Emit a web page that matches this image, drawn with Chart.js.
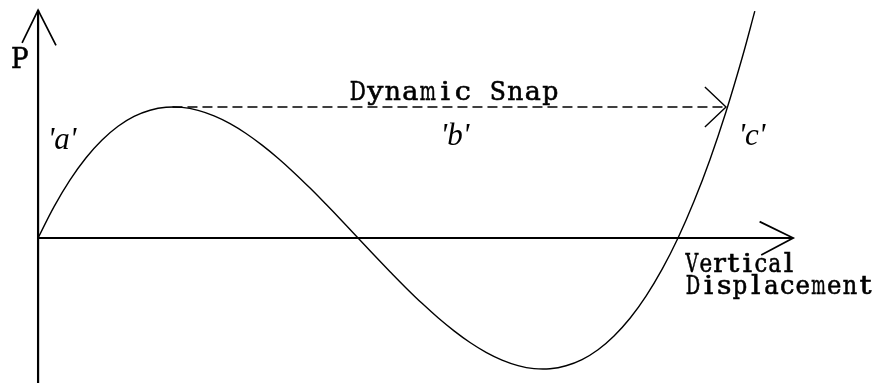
<!DOCTYPE html>
<html>
<head>
<meta charset="utf-8">
<script src="https://cdn.jsdelivr.net/npm/chart.js@4.4.1/dist/chart.umd.min.js"></script>
<style>
  html, body { margin: 0; padding: 0; background: #fff; }
  #wrap { width: 882px; height: 383px; }
</style>
</head>
<body>
<div id="wrap"><canvas id="snapChart" width="882" height="383"></canvas></div>
<script>
// Load-displacement curve (displacement units, load units)
const dispU = [0, 0.05, 0.1, 0.15, 0.2, 0.25, 0.3, 0.35, 0.4, 0.45, 0.5, 0.55, 0.6, 0.65, 0.7, 0.75,
               0.8, 0.85, 0.9, 0.95, 1.0, 1.05, 1.1, 1.15, 1.2, 1.25, 1.3, 1.35, 1.4, 1.45, 1.5,
               1.55, 1.6, 1.65, 1.7, 1.75, 1.8, 1.85, 1.9, 1.95, 2.0, 2.05, 2.1, 2.15, 2.2, 2.24];
const loadP = [0, 0.24, 0.444, 0.613, 0.748, 0.853, 0.928, 0.975, 0.998, 0.997, 0.974, 0.932, 0.873, 0.798, 0.709, 0.609,
               0.499, 0.381, 0.257, 0.13, 0, -0.13, -0.257, -0.381, -0.499, -0.609, -0.709, -0.798, -0.873, -0.932, -0.974,
               -0.997, -0.998, -0.975, -0.928, -0.853, -0.748, -0.613, -0.444, -0.24, 0, 0.28, 0.6, 0.964, 1.372, 1.732];

// Axes and arrows
const yAxisU = [0, 0];               const yAxisP = [1.74, -1.11];
const yArrowU = [-0.05, 0, 0.056];   const yArrowP = [1.49, 1.74, 1.47];
const xAxisU = [0, 2.36];            const xAxisP = [0, 0];
const xArrowU = [2.255, 2.36, 2.26]; const xArrowP = [0.125, 0, -0.13];

// Dynamic snap jump from the limit point to branch 'c'
const snapU = [0.42, 2.15];          const snapP = [1.0, 1.0];
const snapHeadU = [2.084, 2.15, 2.084]; const snapHeadP = [1.153, 1.0, 0.847];

// Text labels
const labelText = ["P", "Dynamic Snap", "'a'", "'b'", "'c'", "Vertical", "Displacement"];
const labelU    = [-0.087, 0.972, 0.075, 1.303, 2.231, 2.022, 2.022];
const labelP    = [1.30, 1.05, 0.679, 0.71, 0.71, -0.26, -0.43];
const labelCell = [19, 17.5, 0, 0, 0, 13.8, 15.7];

const toPoints = (us, ps) => us.map((u, i) => ({ x: u, y: ps[i] }));

const lineSet = (us, ps, extra) => Object.assign({
    data: toPoints(us, ps),
    borderColor: '#000',
    borderWidth: 1.4,
    pointRadius: 0,
    fill: false,
    tension: 0
}, extra || {});

// typewriter style text: every glyph squeezed (or slightly widened) into a fixed cell
function drawMono(ctx, text, x, y, cell) {
    for (let i = 0; i < text.length; i++) {
        const ch = text[i];
        if (ch === ' ') continue;
        const w = ctx.measureText(ch).width;
        const sx = Math.max(0.55, Math.min(1.15, cell * 0.92 / w));
        ctx.save();
        ctx.translate(x + cell * (i + 0.5), y);
        ctx.scale(sx, 1);
        ctx.fillText(ch, 0, 0);
        ctx.strokeText(ch, 0, 0);
        ctx.restore();
    }
}

// --- draw labels through the scales ---
const labelPlugin = {
    id: 'labels',
    afterDatasetsDraw(chart) {
        const ctx = chart.ctx;
        const xs = chart.scales.x, ys = chart.scales.y;
        ctx.save();
        ctx.fillStyle = '#000';
        ctx.strokeStyle = '#000';
        ctx.lineWidth = 0.6;
        ctx.textBaseline = 'alphabetic';
        ctx.textAlign = 'center';
        labelText.forEach((t, i) => {
            const px = xs.getPixelForValue(labelU[i]);
            const py = ys.getPixelForValue(labelP[i]);
            if (t.startsWith("'")) {
                ctx.font = 'italic 31px "Liberation Serif"';
                ctx.fillText(t, px, py);
            } else {
                ctx.font = (t === 'P' ? '28px' : '26px') + ' "DejaVu Serif"';
                drawMono(ctx, t, px, py, labelCell[i]);
            }
        });
        ctx.restore();
    }
};

const ctx = document.getElementById('snapChart').getContext('2d');
new Chart(ctx, {
    type: 'line',
    data: {
        datasets: [
            lineSet(dispU, loadP, { tension: 0.4, borderWidth: 1.4 }),
            lineSet(yAxisU, yAxisP, { borderWidth: 2.2 }),
            lineSet(yArrowU, yArrowP, { borderWidth: 1.7 }),
            lineSet(xAxisU, xAxisP, { borderWidth: 2.2 }),
            lineSet(xArrowU, xArrowP, { borderWidth: 1.7 }),
            lineSet(snapU, snapP, { borderDash: [10, 5], borderWidth: 1.5 }),
            lineSet(snapHeadU, snapHeadP, { borderWidth: 1.4 })
        ]
    },
    options: {
        responsive: false,
        animation: false,
        layout: { padding: 0 },
        scales: {
            x: { type: 'linear', min: -0.119, max: 2.6375, display: false },
            y: { type: 'linear', min: -1.107, max: 1.817, display: false }
        },
        plugins: {
            legend: { display: false },
            tooltip: { enabled: false }
        }
    },
    plugins: [labelPlugin]
});
</script>
</body>
</html>
